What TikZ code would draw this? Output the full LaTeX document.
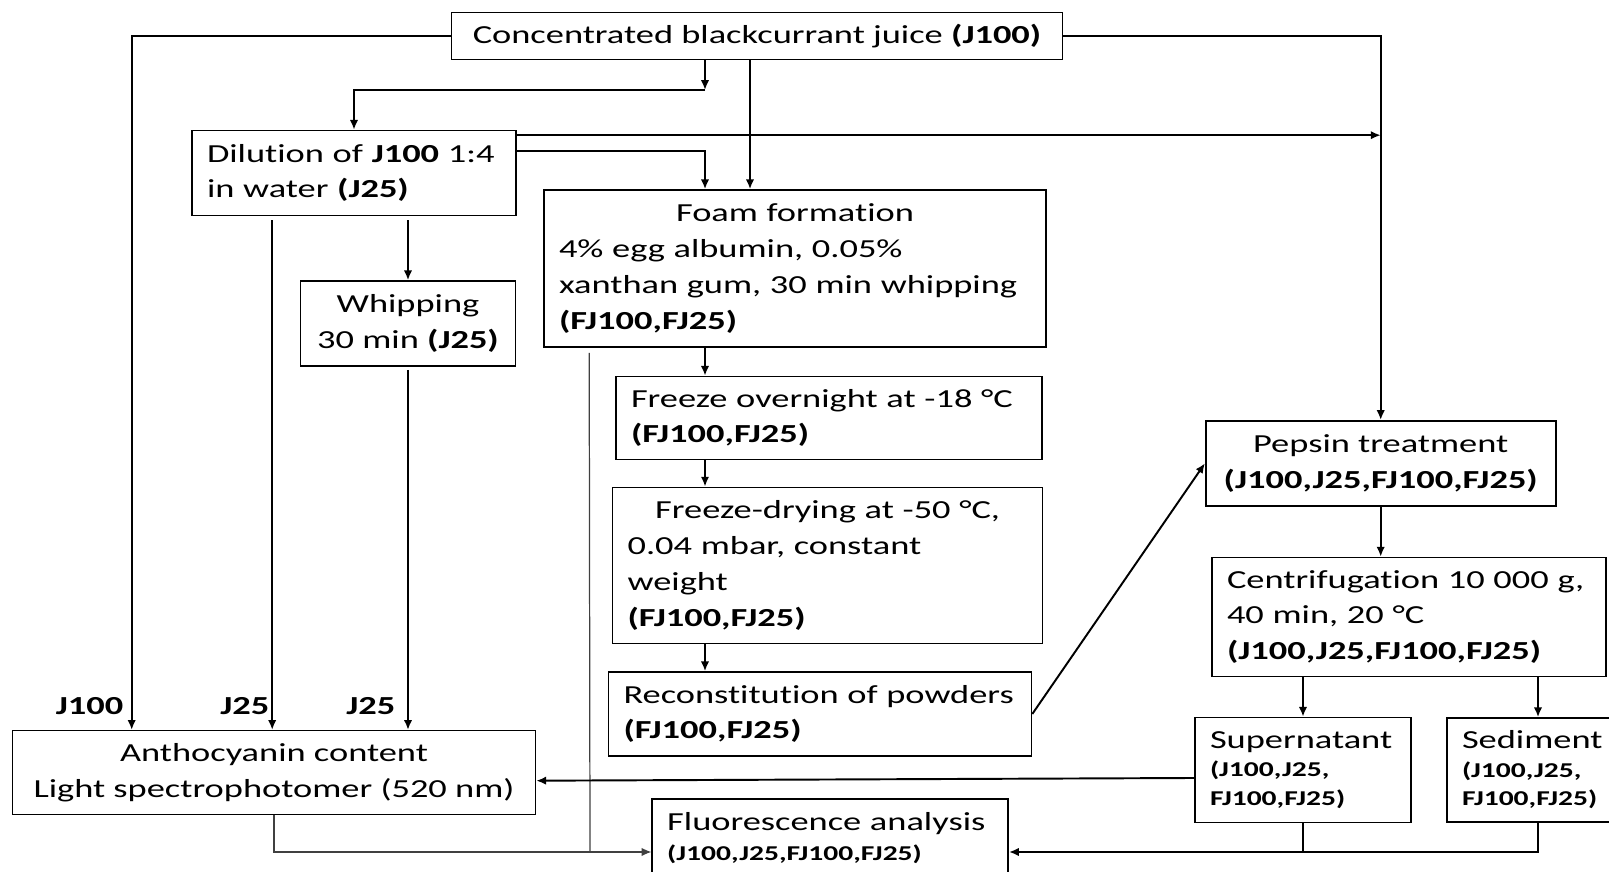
\documentclass[tikz,border=0pt]{standalone}
\usepackage{fontspec}
\setmainfont{Carlito}[FakeStretch=1.4, Ligatures={NoCommon,NoContextual,NoRare}, Contextuals=NoAlternate]
\usetikzlibrary{arrows.meta}

\newcommand\chico{\fontsize{6}{8}\selectfont}

\tikzset{
	caja/.style={draw, line width=0.45pt, inner ysep=0pt, font=\fontsize{7.4}{10.2}\selectfont},
	izq/.style={align=left, inner xsep=1.5mm},
	cen/.style={align=center},
	flecha/.style={line width=0.55pt, -{Latex[length=2.8pt,width=2.4pt]}},
	linea/.style={line width=0.55pt},
	fina/.style={line width=0.35pt, black!75},
	etiq/.style={font=\fontsize{7.4}{10.2}\selectfont\bfseries, anchor=east, inner sep=0pt}
}

\begin{document}
\begin{tikzpicture}[x=0.1mm, y=-0.1mm]
\useasboundingbox (0,0) rectangle (1609,872);

% Cajas
	\node[caja, cen, minimum width=61.1mm, minimum height=4.7mm] (jugo) at (757,36) {Concentrated blackcurrant juice \textbf{(J100)}};
	\node[caja, izq, text width=29.4mm, minimum height=8.5mm] (dilucion) at (354,173) {Dilution of \textbf{J100} 1:4\\in water \textbf{(J25)}};
	\node[caja, izq, text width=47.2mm, minimum height=15.7mm] (espuma) at (795,268.5) {\makebox[47.2mm]{Foam formation}\\4\% egg albumin, 0.05\%\\xanthan gum, 30 min whipping\\\textbf{(FJ100,FJ25)}};
	\node[caja, cen, minimum width=21.5mm, minimum height=8.5mm] (batido) at (408,323.5) {Whipping\\30 min \textbf{(J25)}};
	\node[caja, izq, text width=39.6mm, minimum height=8.3mm] (congelado) at (829,418) {Freeze overnight at -18 °C\\\textbf{(FJ100,FJ25)}};
	\node[caja, izq, text width=40mm, minimum height=15.6mm] (liofilizado) at (827.6,565.4) {\makebox[40mm]{Freeze-drying at -50 °C,}\\0.04 mbar, constant\\weight\\\textbf{(FJ100,FJ25)}};
	\node[caja, izq, text width=39.3mm, minimum height=8.4mm] (reconst) at (820,714) {Reconstitution of powders\\\textbf{(FJ100,FJ25)}};
	\node[caja, cen, minimum width=35mm, minimum height=8.5mm] (pepsina) at (1380.7,463.3) {Pepsin treatment\\\textbf{(J100,J25,FJ100,FJ25)}};
	\node[caja, izq, text width=36.4mm, minimum height=11.9mm] (centrif) at (1409,617) {Centrifugation 10 000 g,\\40 min, 20 °C\\\textbf{(J100,J25,FJ100,FJ25)}};
	\node[caja, izq, text width=18.6mm, minimum height=10.5mm] (sobrenad) at (1303,770) {Supernatant\\\chico\textbf{(J100,J25,}\\[-2pt]\chico\textbf{FJ100,FJ25)}};
	\node[caja, izq, text width=16.4mm, minimum height=10.4mm] (sedimento) at (1544,770) {Sediment\\\chico\textbf{(J100,J25,}\\[-2pt]\chico\textbf{FJ100,FJ25)}};
	\node[caja, cen, minimum width=52.3mm, minimum height=8.4mm] (antociano) at (274,772.7) {Anthocyanin content\\Light spectrophotomer (520 nm)};
	\node[caja, izq, text width=32.6mm, minimum height=7.9mm] (fluor) at (830.2,838.5) {Fluorescence analysis\\[-1.7pt]\chico\textbf{(J100,J25,FJ100,FJ25)}};

% Etiquetas
	\node[etiq] (lJ100) at (124,706) {J100};
	\node[etiq] (lJ25a) at (270,706) {J25};
	\node[etiq] (lJ25b) at (396,706) {J25};

% Puntos auxiliares
	\coordinate (bif) at (705,90);
	\coordinate (d1) at ([yshift=-0.55mm]dilucion.north east);
	\coordinate (d2) at ([yshift=-2.1mm]dilucion.north east);
	\coordinate (d3) at ([xshift=8.1mm,yshift=-0.4mm]dilucion.south west);
	\coordinate (f1) at ([xshift=4.6mm,yshift=-0.5mm]espuma.south west);
	\coordinate (f2) at (590,852);
	\coordinate (s1) at (sobrenad.south |- f2);
	\coordinate (s2) at (1538,0);

% Jugo concentrado
	\draw[flecha] (jugo.west) -| ([xshift=12mm]antociano.north west);
	\draw[flecha] (jugo.east) -| (pepsina.north);
	\draw[flecha] (jugo.south -| bif) -- (bif);
	\draw[flecha] (bif) -| (dilucion.north);
	\draw[flecha] ([xshift=-0.7mm]jugo.south) -- ([xshift=-0.7mm]jugo.south |- espuma.north);

% Dilucion y batido
	\draw[flecha] (d1) -- (d1 -| pepsina.north);
	\draw[flecha] (d2) -| (espuma.north -| bif);
	\draw[flecha] (d3) -- (d3 |- antociano.north);
	\draw[flecha] (batido.north |- d3) -- (batido.north);
	\draw[flecha] ([yshift=-0.3mm]batido.south) -- (batido.south |- antociano.north);

% Espuma
	\draw[flecha] (espuma.south -| bif) -- (congelado.north -| bif);
	\draw[flecha] (congelado.south -| bif) -- (liofilizado.north -| bif);
	\draw[flecha] (liofilizado.south -| bif) -- (reconst.north -| bif);
	\draw[flecha] (reconst.east) -- (pepsina.west);

% Fluorescencia
	\draw[fina] (f1) -- (f2);
	\draw[fina] (antociano.south) |- (f2);
	\draw[fina, -{Latex[length=2.8pt,width=2.4pt]}] (f2) -- (f2 -| fluor.west);

% Pepsina
	\draw[flecha] (pepsina.south) -- (pepsina.south |- centrif.north);
	\draw[flecha] (centrif.south -| sobrenad.north) -- (sobrenad.north);
	\draw[flecha] (centrif.south -| s2) -- (sedimento.north -| s2);
	\draw[flecha] ([yshift=-0.8mm]sobrenad.west) -- ([yshift=-0.8mm]antociano.east);
	\draw[linea] (sobrenad.south) -- (s1);
	\draw[linea] (sedimento.south -| s2) |- (s1);
	\draw[flecha] (s1) -- (s1 -| fluor.east);
\end{tikzpicture}
\end{document}
